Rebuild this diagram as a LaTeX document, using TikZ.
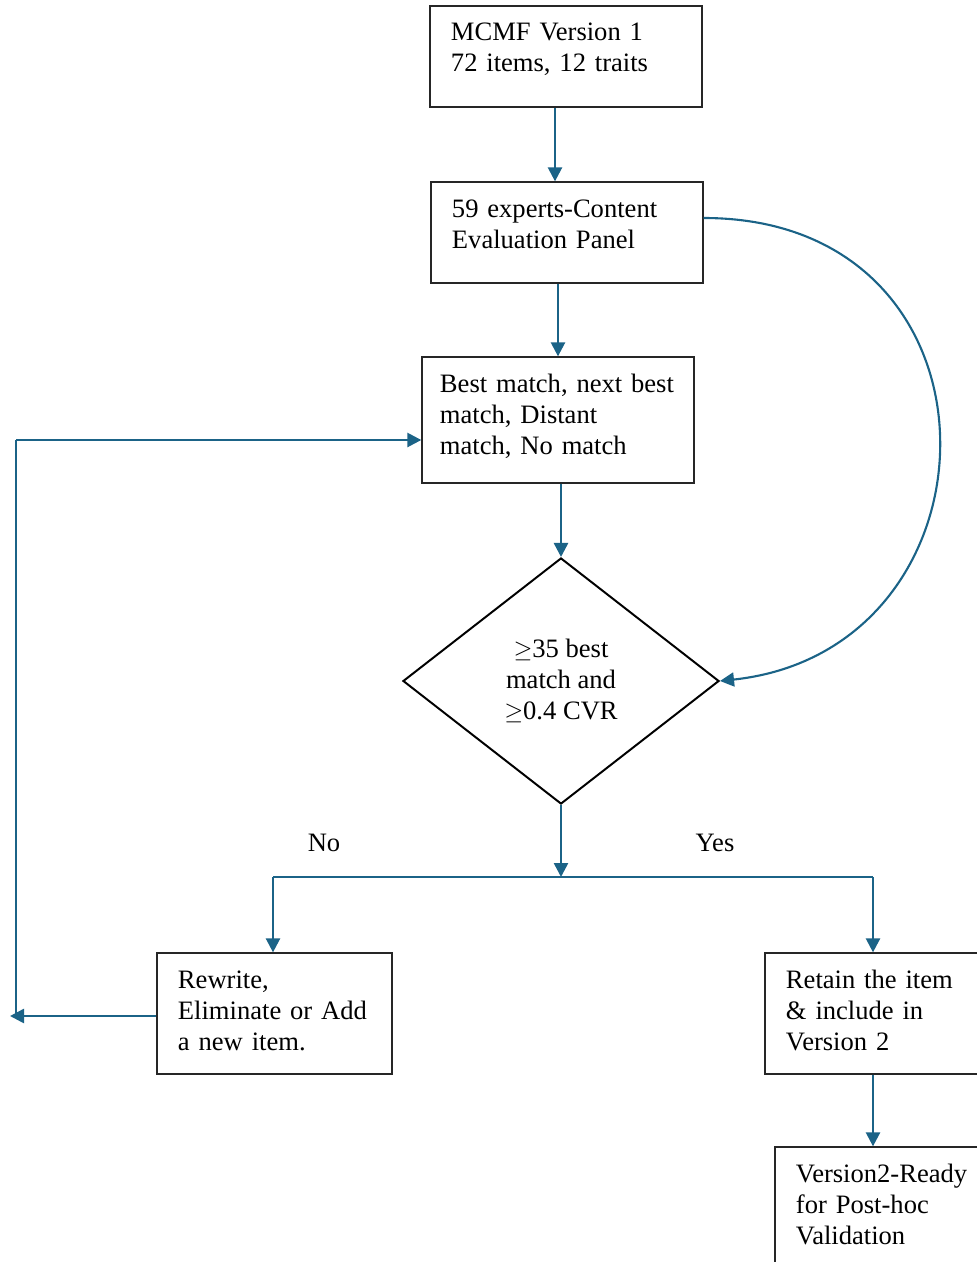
\documentclass[tikz,border=0pt]{standalone}
\usepackage{fontspec}
\setmainfont{Liberation Serif}
\usepackage{xcolor}
\usepackage{tikz}
\usetikzlibrary{positioning, arrows.meta, shapes.geometric, calc}
\definecolor{flow}{HTML}{1B6387}
\tikzset{
  proc/.style={draw=black!85, line width=0.9pt, align=left, inner xsep=5.25mm,
               font=\fontsize{18.9}{22}\selectfont},
  dec/.style={draw=black, line width=1.4pt, diamond, align=center, inner sep=0pt,
              minimum width=7.9cm, minimum height=6.15cm,
              font=\fontsize{18.9}{22}\selectfont},
  tag/.style={font=\fontsize{18.9}{22}\selectfont},
  ar/.style={-{Triangle[length=3.5mm, width=3.5mm]}, line width=1.8pt, flow},
  thin/.style={line width=0.9pt, flow},
}
\begin{document}
\begin{tikzpicture}[x=0.025cm, y=-0.025cm]
  \useasboundingbox (0,0) rectangle (976,1262);

  \node[proc, minimum width=6.8cm, minimum height=2.525cm, text width=5.75cm, text depth=1.22cm] (mcmf) at (566,56.5)
    {MCMF Version 1\\72 items, 12 traits};
  \node[proc, minimum width=6.8cm, minimum height=2.525cm, text width=5.75cm, text depth=1.2cm] (panel) at (567,232.5)
    {59 experts-Content\\Evaluation Panel};
  \node[proc, minimum width=6.8cm, minimum height=3.15cm, inner xsep=4.5mm, text width=5.9cm, text depth=1.82cm] (match) at (558,420)
    {Best match, next best\\match, Distant\\match, No match};
  \node[dec] (crit) at (561,681) {$\geq$35 best\\match and\\$\geq$0.4 CVR};
  \node[proc, minimum width=5.875cm, minimum height=3.025cm, text width=4.825cm, text depth=1.7cm] (rewrite) at (274.5,1013.5)
    {Rewrite,\\Eliminate or Add\\a new item.};
  \node[proc, minimum width=5.875cm, minimum height=3.025cm, text width=4.825cm, text depth=1.7cm] (retain) at (882.5,1013.5)
    {Retain the item\\\& include in\\Version 2};
  \node[proc, minimum width=6cm, minimum height=3.25cm, text width=4.95cm, text depth=1.95cm] (final) at (895,1212)
    {Version2-Ready\\for Post-hoc\\Validation};

  \node[tag] (no) at (324,843) {No};
  \node[tag] (yes) at (715,843) {Yes};

  \coordinate (split) at (561,877);
  \coordinate (noturn) at (273,877);
  \coordinate (yesturn) at (873,877);
  \coordinate (back) at (10,1016);
  \coordinate (loop) at (16,1016);
  \coordinate (upturn) at (16,440);

  \draw[ar] (mcmf.south -| 555,0) -- (panel.north -| 555,0);
  \draw[ar] (panel.south -| 558,0) -- (match.north -| 558,0);
  \draw[ar] (match.south -| crit.north) -- (crit.north);
  \draw[ar] (crit.south) -- (split);
  \draw[thin] (noturn) -- (yesturn);
  \draw[ar] (noturn) -- (noturn |- rewrite.north);
  \draw[ar] (yesturn) -- (yesturn |- retain.north);
  \draw[ar] (yesturn |- retain.south) -- (yesturn |- final.north);

  % back to the panel ratings
  \draw[ar] (rewrite.west |- back) -- (back);
  \draw[thin] (loop) -- (upturn);
  \draw[ar] (upturn) -- (upturn -| match.west);

  \draw[ar, line width=1.5pt] (panel.east |- 0,218) .. controls (1018,218) and (1010,650) .. (crit.east);
\end{tikzpicture}
\end{document}
